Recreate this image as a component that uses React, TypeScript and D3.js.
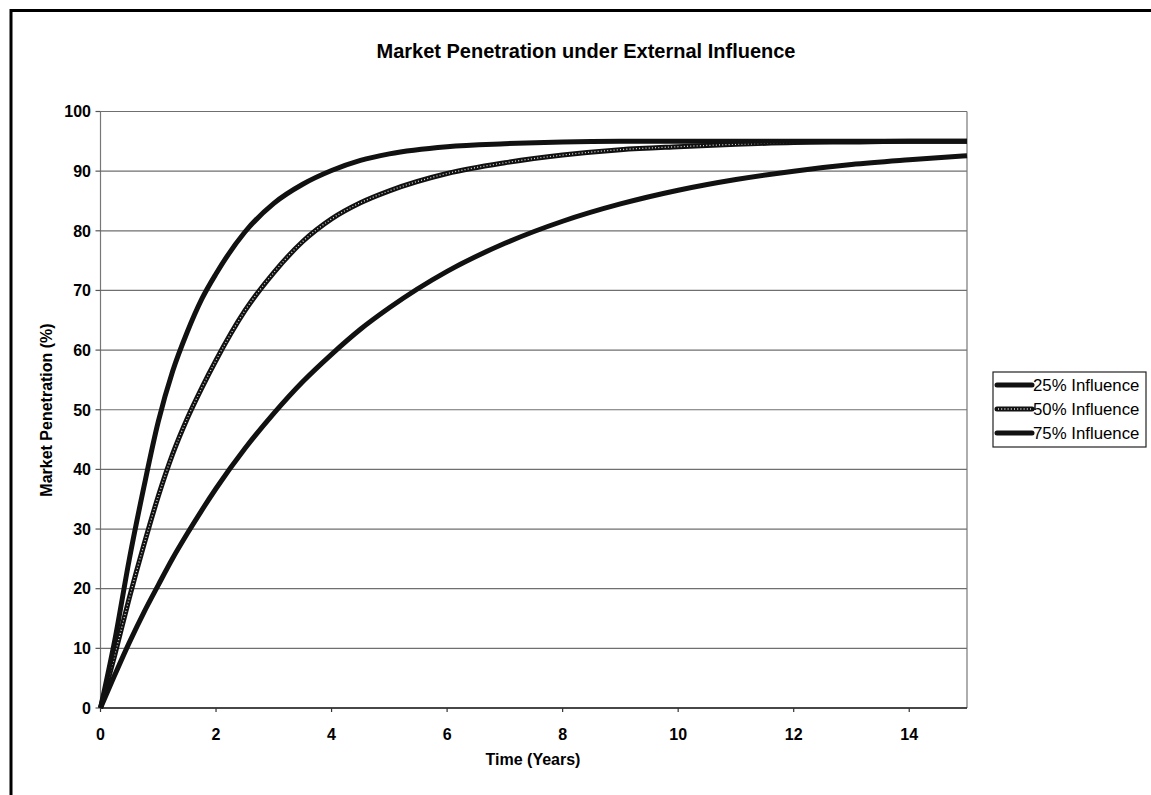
import React from "react";
import * as d3 from "d3";

// Time axis samples (years)
const years = [0, 0.25, 0.5, 0.75, 1, 1.25, 1.5, 1.75, 2, 2.5, 3, 3.5, 4, 4.5, 5, 6, 7, 8, 9, 10, 11, 12, 13, 14, 15];

// Market penetration (%) per influence level
const influence25 = [0, 5.6, 11.0, 16.0, 20.6, 25.1, 29.2, 33.1, 36.8, 43.5, 49.4, 54.7, 59.3, 63.5, 67.1, 73.2, 77.9, 81.6, 84.5, 86.8, 88.6, 90.0, 91.1, 91.9, 92.6];
const influence50 = [0, 9.0, 18.5, 27.3, 35.5, 42.6, 48.5, 53.6, 58.3, 66.6, 73.0, 78.2, 82.0, 84.7, 86.7, 89.6, 91.4, 92.7, 93.6, 94.1, 94.5, 94.8, 94.9, 95.0, 95.0];
const influence75 = [0, 11.5, 25.0, 37.0, 48.0, 56.5, 63.0, 68.5, 72.8, 79.8, 84.6, 87.8, 90.1, 91.8, 92.9, 94.1, 94.6, 94.9, 95.0, 95.0, 95.0, 95.0, 95.0, 95.0, 95.0];

const seriesNames = ["25% Influence", "50% Influence", "75% Influence"];
const xTicks = [0, 2, 4, 6, 8, 10, 12, 14];
const yTicks = [0, 10, 20, 30, 40, 50, 60, 70, 80, 90, 100];

const FONT = "'Liberation Sans', Arial, sans-serif";

export default function App() {
  const W = 1151;
  const H = 795;
  const left = 100.5;
  const right = 967;
  const top = 111.5;
  const bottom = 708;

  const x = d3.scaleLinear().domain([0, 15]).range([left, right]);
  const y = d3.scaleLinear().domain([0, 100]).range([bottom, top]);

  const line = d3
    .line<[number, number]>()
    .x((d) => x(d[0]))
    .y((d) => y(d[1]))
    .curve(d3.curveMonotoneX);

  const series = [influence25, influence50, influence75].map((vals, i) => ({
    name: seriesNames[i],
    path: line(years.map((t, j) => [t, vals[j]] as [number, number])) || "",
    dotted: i === 1,
  }));

  const legendX = 993;
  const legendY = 372;
  const rowH = 24;

  return (
    <svg
      width={W}
      height={H}
      style={{ position: "absolute", left: 0, top: 0, background: "#fff" }}
      fontFamily={FONT}
    >
      {/* outer chart frame */}
      <path d={`M11,795 L11,10.5 L1151,10.5`} fill="none" stroke="#000" strokeWidth={3} />

      {/* title */}
      <text x={586} y={58} textAnchor="middle" fontSize={20} fontWeight="bold">
        Market Penetration under External Influence
      </text>

      {/* horizontal gridlines */}
      {yTicks.map((t) => (
        <line key={`g${t}`} x1={left} x2={right} y1={y(t)} y2={y(t)} stroke="#6f6f6f" strokeWidth={1.2} />
      ))}

      {/* plot frame */}
      <line x1={left} x2={left} y1={top} y2={bottom} stroke="#777" strokeWidth={1.2} />
      <line x1={right} x2={right} y1={top} y2={bottom} stroke="#777" strokeWidth={1.2} />
      <line x1={left} x2={right} y1={bottom} y2={bottom} stroke="#222" strokeWidth={1.5} />

      {/* y axis ticks and labels */}
      {yTicks.map((t) => (
        <g key={`y${t}`}>
          <line x1={left - 5} x2={left} y1={y(t)} y2={y(t)} stroke="#555" strokeWidth={1.2} />
          <text x={91} y={y(t)} dy="0.36em" textAnchor="end" fontSize={16} fontWeight="bold">
            {t}
          </text>
        </g>
      ))}

      {/* x axis ticks and labels */}
      {xTicks.map((t) => (
        <g key={`x${t}`}>
          <line x1={x(t)} x2={x(t)} y1={bottom} y2={bottom + 4} stroke="#333" strokeWidth={1.2} />
          <text x={x(t)} y={740} textAnchor="middle" fontSize={16} fontWeight="bold">
            {t}
          </text>
        </g>
      ))}

      {/* axis titles */}
      <text x={533} y={765} textAnchor="middle" fontSize={16} fontWeight="bold">
        Time (Years)
      </text>
      <text
        transform={`translate(52,410) rotate(-90)`}
        textAnchor="middle"
        fontSize={16}
        fontWeight="bold"
      >
        Market Penetration (%)
      </text>

      {/* series */}
      {series.map((s) => (
        <g key={s.name}>
          <path d={s.path} fill="none" stroke="#111" strokeWidth={5} strokeLinejoin="round" />
          {s.dotted && (
            <path d={s.path} fill="none" stroke="#ddd" strokeWidth={1.3} strokeDasharray="1 2.2" />
          )}
        </g>
      ))}

      {/* legend */}
      <rect x={legendX} y={legendY} width={153} height={75} fill="#fff" stroke="#222" strokeWidth={1.2} />
      {series.map((s, i) => {
        const cy = legendY + 13 + i * rowH;
        return (
          <g key={`l${s.name}`}>
            <line x1={997} x2={1032} y1={cy} y2={cy} stroke="#111" strokeWidth={5} strokeLinecap="round" />
            {s.dotted && (
              <line x1={998} x2={1031} y1={cy} y2={cy} stroke="#ddd" strokeWidth={1.3} strokeDasharray="1 2.2" />
            )}
            <text x={1033} y={cy} dy="0.36em" fontSize={16.8}>
              {s.name}
            </text>
          </g>
        );
      })}
    </svg>
  );
}
